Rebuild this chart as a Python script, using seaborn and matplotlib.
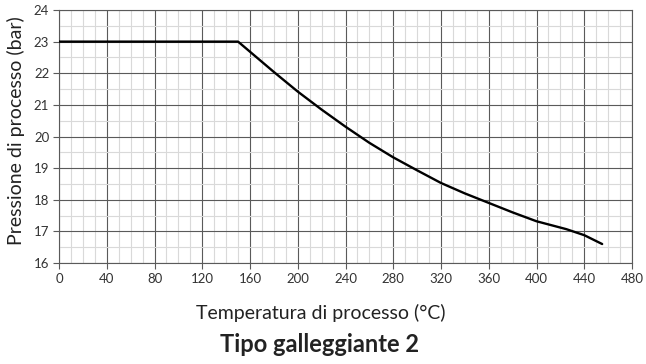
import matplotlib
matplotlib.use("Agg")
import matplotlib.pyplot as plt
import seaborn as sns
import pandas as pd
from matplotlib.ticker import MultipleLocator

temperature = [0, 150, 160, 180, 200, 220, 240, 260, 280, 300, 320, 340, 360, 380, 400, 425, 440, 455]
pressure = [23, 23, 22.68, 22.04, 21.42, 20.85, 20.31, 19.8, 19.34, 18.93, 18.53, 18.2, 17.9, 17.6, 17.32, 17.07, 16.88, 16.6]
x_ticks = list(range(0, 481, 40))
y_ticks = list(range(16, 25, 1))
x_label = "Temperatura di processo (°C)"
y_label = "Pressione di processo (bar)"
title = "Tipo galleggiante 2"

df = pd.DataFrame({"T": temperature, "P": pressure})

sns.set_theme(style="white")
plt.rcParams["font.family"] = ["Lato", "DejaVu Sans"]

fig = plt.figure(figsize=(6.46, 3.64), dpi=100)
ax = fig.add_axes([59/646, 1 - 263/364, (632-59)/646, (263-10)/364])

sns.lineplot(data=df, x="T", y="P", ax=ax, color="black", linewidth=1.7,
             solid_joinstyle="round", zorder=5)

ax.set_xlim(0, 480)
ax.set_ylim(16, 24)
ax.set_xticks(x_ticks)
ax.set_yticks(y_ticks)
ax.xaxis.set_minor_locator(MultipleLocator(10))
ax.yaxis.set_minor_locator(MultipleLocator(0.5))
ax.grid(which="minor", color="#d9d9d9", linewidth=0.8)
ax.grid(which="major", color="#5a5a5a", linewidth=0.8)
ax.set_axisbelow(True)
for s in ax.spines.values():
    s.set_color("#5a5a5a")
    s.set_linewidth(0.8)
ax.tick_params(which="major", direction="out", length=4, width=0.8, color="#5a5a5a",
               labelsize=9.5, labelcolor="#333333", pad=3, bottom=True, left=True)
ax.tick_params(which="minor", length=0)

ax.set_xlabel("")
ax.set_ylabel("")
fig.text(16/646, 1 - 131/364, y_label, ha="center", va="center", rotation=90,
         fontsize=14, color="#222222")
fig.text(321/646, 1 - 313/364, x_label, ha="center", va="center", fontsize=14, color="#222222")
fig.text(320/646, 1 - 345/364, title, ha="center", va="center", fontsize=17, fontweight="bold", color="#222222")

fig.savefig("out.png", dpi=100)
